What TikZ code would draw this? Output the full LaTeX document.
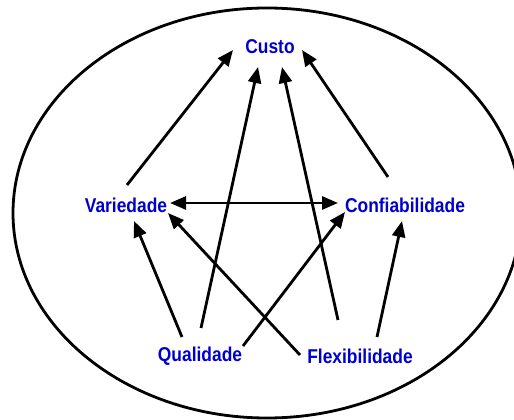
\documentclass[tikz,border=0pt]{standalone}
\usepackage{fontspec}
\setmainfont{Liberation Sans}[FakeStretch=0.87]
\usetikzlibrary{arrows.meta,calc}
\definecolor{lblue}{RGB}{0,0,205}
\tikzset{
  lbl/.style={font=\fontsize{20}{22}\selectfont\bfseries, text=lblue, inner sep=0pt},
  arr/.style={line width=2.8pt, -{Triangle[length=16pt,width=13pt]}},
  darr/.style={line width=2.8pt, {Triangle[length=16pt,width=13pt]}-{Triangle[length=16pt,width=13pt]}},
}
\begin{document}
\begin{tikzpicture}[x=1pt,y=1pt]
\useasboundingbox (0,0) rectangle (514,420);
\clip (0,0) rectangle (514,420);
\draw[line width=2.8pt] (267,207) ellipse [x radius=254, y radius=205];
\node[lbl] (custo) at (270,373) {Custo};
\node[lbl] (var) at (126,215) {Variedade};
\node[lbl] (conf) at (405,215) {Confiabilidade};
\node[lbl] (qual) at (200,64) {Qualidade};
\node[lbl] (flex) at (360,64) {Flexibilidade};
\draw[arr] ($(var)+(1,20)$) -- ($(custo)+(-37,-3)$);
\draw[arr] ($(conf)+(-17,28)$) -- ($(custo)+(32,-3)$);
\draw[arr] ($(qual)+(1,28)$) -- ($(custo)+(-12,-20)$);
\draw[arr] ($(flex)+(-22,36)$) -- ($(custo)+(12,-20)$);
\draw[arr] ($(qual)+(-18,19)$) -- ($(var)+(8,-16)$);
\draw[arr] ($(qual)+(43,10)$) -- ($(conf)+(-60,-7)$);
\draw[arr] ($(flex)+(-60,1)$) -- ($(var)+(42,-8)$);
\draw[arr] ($(flex)+(17,19)$) -- ($(conf)+(-3,-16)$);
\draw[darr] ($(var)+(44,2)$) -- ($(conf)+(-67,2)$);
\end{tikzpicture}
\end{document}
